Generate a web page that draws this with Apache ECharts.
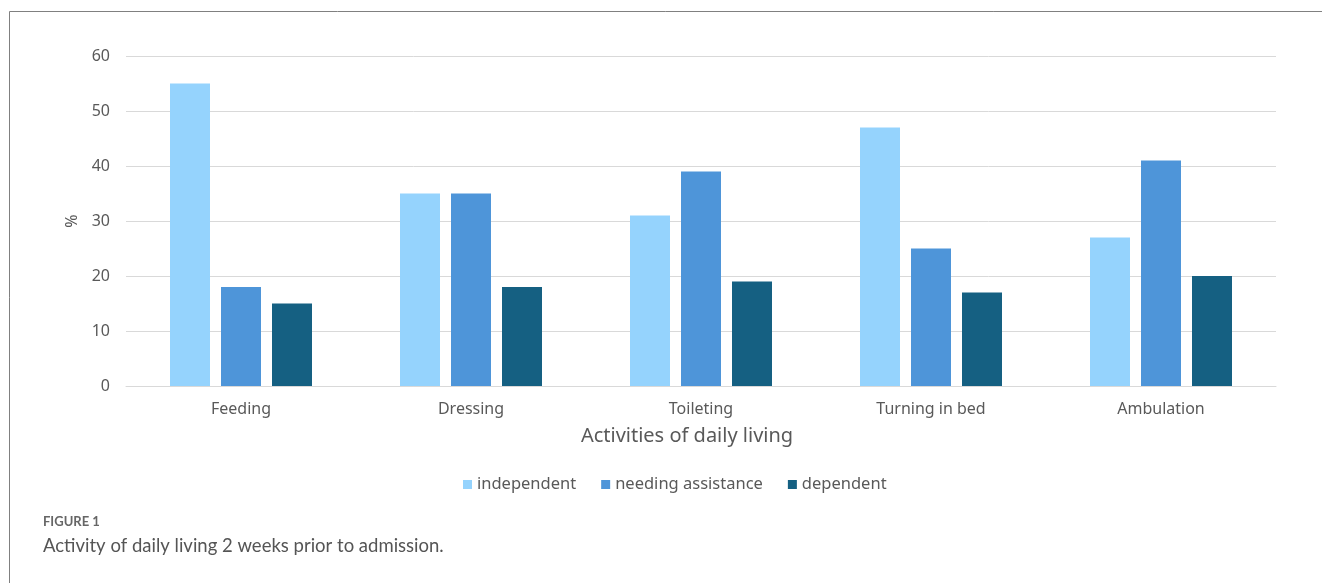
<!DOCTYPE html>
<html>
<head>
<meta charset="utf-8">
<script src="https://cdn.jsdelivr.net/npm/echarts@6/dist/echarts.min.js"></script>
<style>
html,body{margin:0;padding:0;background:#fff;}
#chart{width:1322px;height:583px;}
</style>
</head>
<body>
<div id="chart"></div>
<script>
const categories = ['Feeding', 'Dressing', 'Toileting', 'Turning in bed', 'Ambulation'];
const independent = [55, 35, 31, 47, 27];
const needingAssistance = [18, 35, 39, 25, 41];
const dependent = [15, 18, 19, 17, 20];
const seriesNames = ['independent', 'needing assistance', 'dependent'];
const yTicks = [0, 10, 20, 30, 40, 50, 60];

const colors = ['#95D3FD', '#4E95D9', '#156082'];
const textColor = '#595959';
const font = 'Noto Sans';

const chart = echarts.init(document.getElementById('chart'), null, {renderer: 'canvas'});
chart.setOption({
  animation: false,
  backgroundColor: '#ffffff',
  color: colors,
  grid: {left: 126, right: 46, top: 56, bottom: 197, containLabel: false},
  legend: {
    data: seriesNames,
    top: 471,
    left: 458,
    itemWidth: 9,
    itemHeight: 9,
    itemGap: 25,
    icon: 'rect',
    textStyle: {color: textColor, fontSize: 16.5, fontFamily: font}
  },
  xAxis: {
    type: 'category',
    data: categories,
    name: 'Activities of daily living',
    nameLocation: 'middle',
    nameGap: 40,
    nameTextStyle: {color: textColor, fontSize: 20, fontFamily: font, padding: [0, 28, 0, 0]},
    axisLine: {lineStyle: {color: '#D9D9D9', width: 1}},
    axisTick: {show: false},
    axisLabel: {color: textColor, fontSize: 16, fontFamily: font, margin: 15}
  },
  yAxis: {
    type: 'value',
    min: yTicks[0],
    max: yTicks[yTicks.length - 1],
    interval: 10,
    name: '%',
    nameLocation: 'middle',
    nameGap: 45,
    nameRotate: 90,
    nameTextStyle: {color: textColor, fontSize: 16, fontFamily: font},
    axisLine: {show: false},
    axisTick: {show: false},
    axisLabel: {color: textColor, fontSize: 16, fontFamily: font, margin: 16},
    splitLine: {lineStyle: {color: '#D9D9D9', width: 1}}
  },
  series: [
    {name: seriesNames[0], type: 'bar', data: independent, barWidth: 40, barGap: '27.5%'},
    {name: seriesNames[1], type: 'bar', data: needingAssistance, barWidth: 40, barGap: '27.5%'},
    {name: seriesNames[2], type: 'bar', data: dependent, barWidth: 40, barGap: '27.5%'}
  ],
  graphic: [
    {type: 'line', shape: {x1: 9.5, y1: 11.5, x2: 1322, y2: 11.5}, style: {stroke: '#808080', lineWidth: 1}},
    {type: 'line', shape: {x1: 9.5, y1: 11.5, x2: 9.5, y2: 583}, style: {stroke: '#808080', lineWidth: 1}},
    {type: 'text', left: 43, top: 515, style: {text: 'FIGURE 1', fill: '#666666', fontSize: 13, fontWeight: 'bold', fontFamily: 'Lato'}},
    {type: 'text', left: 43, top: 537, style: {text: 'Activity of daily living 2 weeks prior to admission.', fill: '#555555', fontSize: 18.5, fontFamily: 'Lato'}}
  ]
});
</script>
</body>
</html>
